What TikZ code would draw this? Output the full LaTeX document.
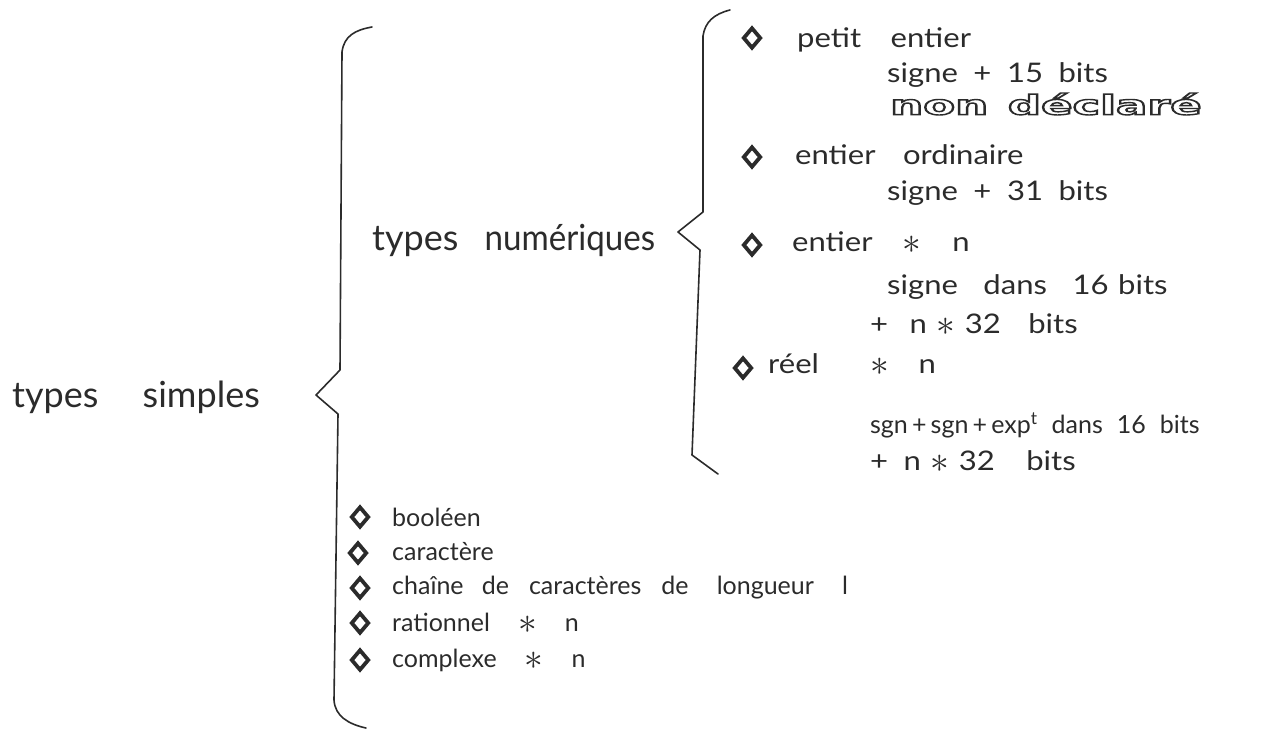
\documentclass[tikz,border=0pt]{standalone}
\usepackage{fontspec}
\usepackage{graphicx}
\setmainfont[WordSpace=2.2]{Lato}
\newfontfamily\handU[FakeStretch=1.15,WordSpace=1.2]{Lato}
\newfontfamily\wideB{DejaVu Sans}
\usetikzlibrary{shapes.geometric}
\definecolor{ink}{HTML}{2B2B2B}
\newcommand{\gap}[1]{\hspace{#1pt}\ }
\newcommand{\astk}{\raisebox{-2pt}{\scalebox{1.5}{$\ast$}}}
\tikzset{
  txt/.style={anchor=west, inner sep=0pt, text=ink, font=\fontsize{25}{28}\selectfont},
  utxt/.style={anchor=west, inner sep=0pt, text=ink, font=\handU\fontsize{27}{30}\selectfont},
  big/.style={anchor=west, inner sep=0pt, text=ink, font=\fontsize{36}{40}\selectfont},
  bul/.style={diamond, draw=ink, line width=3.8pt, inner sep=0pt, minimum width=18pt, minimum height=21pt},
  brace/.style={draw=ink, line width=1.6pt, line join=round, line cap=round}
}
\begin{document}
\begin{tikzpicture}[x=1pt,y=-1pt]
\useasboundingbox (0,0) rectangle (1285,729);
% left labels
\node[big] (ts) at (12,397) {types\gap{24}simples};
\node[big] (tn) at (372,240) {types\gap{6}{\addfontfeatures{FakeStretch=0.92}numériques}};
% outer brace
\draw[brace] (372,27) .. controls (355,30) and (344,36) .. (342,52) -- (340,370) -- (316,395) -- (338,414) -- (334,700) .. controls (335,716) and (348,724) .. (366,728);
% inner brace
\draw[brace] (730,10) .. controls (714,14) and (705,22) .. (703,36) -- (703,212) -- (678,232) -- (700,250) -- (692,455) -- (718,474);
% numeric items
\node[bul] (d1) at (752,38) {};
\node[utxt] (t1) at (797,40) {petit\gap{20}entier};
\node[utxt] (t1a) at (887,75) {signe\gap{6}+\gap{6}15\gap{6}bits};
\node[anchor=west, inner sep=0pt, text=ink, font=\wideB\bfseries\fontsize{27}{30}\selectfont] (t1b) at (890,104)
  {\special{pdf:literal direct 1 Tr 1.4 w}\scalebox{1.72}[1]{non\hspace{2pt} déclaré}\special{pdf:literal direct 0 Tr}};
\node[bul] (d2) at (752,157) {};
\node[utxt] (t2) at (795,155) {entier\gap{18}ordinaire};
\node[utxt] (t2a) at (887,193) {signe\gap{6}+\gap{6}31\gap{6}bits};
\node[bul] (d3) at (752,245) {};
\node[utxt] (t3) at (792,243) {entier\gap{20}\astk\gap{22}n};
\node[utxt] (t3a) at (887,287) {signe\gap{16}dans\gap{16}16 bits};
\node[utxt] (t3b) at (870,325) {+\gap{12}n \astk\ 32\gap{18}bits};
\node[bul] (d4) at (743,368) {};
\node[utxt] (t4) at (768,365) {réel\gap{42}\astk\gap{20}n};
\node[txt] (t4a) at (870,425) {sgn\,+\,sgn\,+\,exp\textsuperscript{t} dans 16 bits};
\node[utxt] (t4b) at (870,462) {+\gap{6}n \astk\ 32\gap{22}bits};
% other simple types
\node[bul] (e1) at (360,517) {};
\node[txt] (u1) at (392,517) {booléen};
\node[bul] (e2) at (358,553) {};
\node[txt] (u2) at (392,552) {caractère};
\node[bul] (e3) at (360,588) {};
\node[txt] (u3) at (392,588) {chaîne\gap{4}de\gap{6}caractères\gap{6}de\gap{14}longueur\gap{14}l};
\node[bul] (e4) at (360,623) {};
\node[txt] (u4) at (392,623) {rationnel \ \astk\ \ n};
\node[bul] (e5) at (360,660) {};
\node[txt] (u5) at (392,660) {complexe \ \astk\ \ n};
\end{tikzpicture}
\end{document}
